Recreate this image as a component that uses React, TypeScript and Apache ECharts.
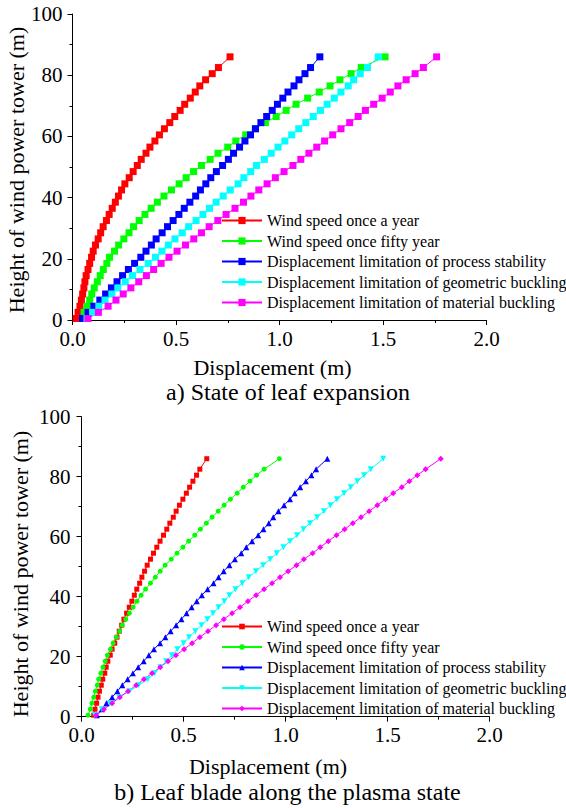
import React, { useEffect, useRef } from "react";
import * as echarts from "echarts";

// Heights of the marker rows (m)
const heights = [0.5, 2.5, 4.5, 6.5, 8.5, 10.5, 12.5, 14.5, 16.5, 18.5, 20.5, 22.5, 24.5, 26.5, 28.5, 30.5, 32.5, 34.5, 36.5, 38.5, 40.5, 42.5, 44.5, 46.5, 48.5, 50.5, 52.5, 54.5, 56.5, 58.5, 60.5, 62.5, 64.5, 66.5, 68.5, 70.5, 72.5, 74.5, 76.5, 78.5, 80.5, 82.5, 86];

const seriesNames = [
  "Wind speed once a year",
  "Wind speed once fifty year",
  "Displacement limitation of process stability",
  "Displacement limitation of geometric buckling",
  "Displacement limitation of material buckling",
];
const colors = ["#FF0000", "#00FF00", "#0000FF", "#00FFFF", "#FF00FF"];

// a) State of leaf expansion — displacement (m)
const aOnceYear = [0.018, 0.027, 0.036, 0.043, 0.049, 0.055, 0.060, 0.066, 0.075, 0.083, 0.092, 0.100, 0.111, 0.124, 0.136, 0.148, 0.164, 0.177, 0.192, 0.207, 0.222, 0.237, 0.253, 0.274, 0.293, 0.313, 0.332, 0.355, 0.374, 0.398, 0.420, 0.444, 0.470, 0.494, 0.520, 0.542, 0.569, 0.593, 0.615, 0.643, 0.675, 0.705, 0.761];
const aFiftyYear = [0.048, 0.056, 0.070, 0.083, 0.093, 0.105, 0.120, 0.134, 0.149, 0.166, 0.179, 0.203, 0.223, 0.248, 0.273, 0.295, 0.322, 0.350, 0.380, 0.410, 0.442, 0.478, 0.515, 0.549, 0.585, 0.623, 0.665, 0.703, 0.750, 0.789, 0.837, 0.883, 0.932, 0.984, 1.032, 1.080, 1.136, 1.192, 1.244, 1.292, 1.346, 1.395, 1.510];
const aProcess = [0.048, 0.075, 0.103, 0.132, 0.160, 0.188, 0.215, 0.242, 0.270, 0.300, 0.330, 0.355, 0.381, 0.404, 0.433, 0.459, 0.486, 0.514, 0.540, 0.567, 0.595, 0.618, 0.644, 0.668, 0.695, 0.725, 0.753, 0.778, 0.807, 0.833, 0.860, 0.884, 0.910, 0.938, 0.965, 0.990, 1.016, 1.041, 1.070, 1.094, 1.123, 1.150, 1.195];
const aGeometric = [0.070, 0.097, 0.127, 0.157, 0.190, 0.219, 0.255, 0.290, 0.326, 0.366, 0.401, 0.432, 0.463, 0.495, 0.530, 0.561, 0.597, 0.630, 0.662, 0.694, 0.728, 0.762, 0.800, 0.828, 0.861, 0.889, 0.927, 0.960, 0.993, 1.026, 1.059, 1.093, 1.127, 1.163, 1.198, 1.230, 1.265, 1.297, 1.332, 1.358, 1.390, 1.425, 1.477];
const aMaterial = [0.075, 0.125, 0.172, 0.210, 0.245, 0.282, 0.320, 0.357, 0.392, 0.428, 0.466, 0.505, 0.546, 0.586, 0.623, 0.660, 0.702, 0.742, 0.785, 0.826, 0.862, 0.900, 0.940, 0.980, 1.022, 1.065, 1.103, 1.142, 1.180, 1.218, 1.257, 1.297, 1.339, 1.380, 1.415, 1.455, 1.496, 1.535, 1.572, 1.612, 1.655, 1.695, 1.759];

// b) Leaf blade along the plasma state — displacement (m)
const bOnceYear = [0.060, 0.066, 0.074, 0.081, 0.088, 0.097, 0.104, 0.114, 0.121, 0.129, 0.141, 0.150, 0.163, 0.174, 0.185, 0.197, 0.208, 0.221, 0.234, 0.247, 0.259, 0.271, 0.285, 0.296, 0.309, 0.322, 0.338, 0.353, 0.369, 0.385, 0.402, 0.418, 0.433, 0.450, 0.464, 0.480, 0.497, 0.514, 0.530, 0.546, 0.564, 0.580, 0.614];
const bFiftyYear = [0.032, 0.043, 0.051, 0.060, 0.068, 0.077, 0.084, 0.095, 0.105, 0.116, 0.127, 0.142, 0.155, 0.171, 0.187, 0.200, 0.217, 0.235, 0.253, 0.272, 0.292, 0.314, 0.338, 0.362, 0.386, 0.410, 0.440, 0.468, 0.497, 0.525, 0.555, 0.583, 0.612, 0.640, 0.670, 0.699, 0.730, 0.763, 0.793, 0.826, 0.858, 0.895, 0.970];
const bProcess = [0.075, 0.100, 0.122, 0.150, 0.176, 0.200, 0.226, 0.252, 0.278, 0.305, 0.330, 0.355, 0.385, 0.411, 0.437, 0.464, 0.490, 0.515, 0.540, 0.565, 0.590, 0.618, 0.647, 0.672, 0.697, 0.725, 0.752, 0.783, 0.808, 0.836, 0.866, 0.892, 0.918, 0.940, 0.965, 0.993, 1.022, 1.045, 1.072, 1.100, 1.127, 1.150, 1.205];
const bGeometric = [0.065, 0.100, 0.140, 0.185, 0.235, 0.280, 0.325, 0.358, 0.387, 0.415, 0.443, 0.470, 0.500, 0.527, 0.558, 0.588, 0.617, 0.645, 0.672, 0.700, 0.725, 0.755, 0.788, 0.820, 0.855, 0.890, 0.925, 0.957, 0.990, 1.022, 1.056, 1.088, 1.120, 1.155, 1.188, 1.220, 1.252, 1.287, 1.320, 1.352, 1.385, 1.418, 1.479];
const bMaterial = [0.072, 0.110, 0.150, 0.188, 0.228, 0.268, 0.306, 0.346, 0.386, 0.424, 0.463, 0.503, 0.542, 0.580, 0.620, 0.660, 0.698, 0.738, 0.777, 0.816, 0.856, 0.895, 0.934, 0.973, 1.013, 1.054, 1.090, 1.133, 1.170, 1.210, 1.250, 1.290, 1.330, 1.370, 1.410, 1.450, 1.490, 1.528, 1.570, 1.607, 1.646, 1.687, 1.761];

const xTicks = [0, 2, 0.5];
const yTicks = [0, 100, 20];

const FONT = "Liberation Serif";

const aSeries = [aOnceYear, aFiftyYear, aProcess, aGeometric, aMaterial];
const bSeries = [bOnceYear, bFiftyYear, bProcess, bGeometric, bMaterial];
const bSymbols = ["rect", "circle", "triangle", "triangle", "diamond"];
const bSizes = [5, 5, 6, 6, 6];
const bRot = [0, 0, 0, 180, 0];

function xAxisCfg(gridIndex: number) {
  return {
    gridIndex,
    type: "value",
    min: xTicks[0],
    max: xTicks[1],
    interval: xTicks[2],
    axisLine: { show: true, onZero: false, lineStyle: { color: "#000", width: 1 } },
    axisTick: { show: true, inside: false, length: 5, lineStyle: { color: "#000" } },
    minorTick: { show: true, splitNumber: 2, length: 3, lineStyle: { color: "#000" } },
    splitLine: { show: false },
    axisLabel: {
      color: "#000",
      fontFamily: FONT,
      fontSize: 21,
      margin: 8,
      formatter: (v: number) => v.toFixed(1),
    },
  };
}

function yAxisCfg(gridIndex: number, margin: number) {
  return {
    gridIndex,
    type: "value",
    min: yTicks[0],
    max: yTicks[1],
    interval: yTicks[2],
    axisLine: { show: true, onZero: false, lineStyle: { color: "#000", width: 1 } },
    axisTick: { show: true, inside: false, length: 5, lineStyle: { color: "#000" } },
    minorTick: { show: true, splitNumber: 2, length: 3, lineStyle: { color: "#000" } },
    splitLine: { show: false },
    axisLabel: { color: "#000", fontFamily: FONT, fontSize: 21, margin },
  };
}

function legendCfg(top: number, names: string[], itemHeight: number, strip: boolean) {
  return {
    data: names,
    orient: "vertical",
    left: 221,
    top,
    padding: 0,
    itemWidth: 40,
    itemHeight,
    itemGap: 4.5,
    selectedMode: false,
    formatter: strip ? (n: string) => n.slice(3) : (n: string) => n,
    textStyle: { color: "#000", fontFamily: FONT, fontSize: 16, lineHeight: 16 },
  };
}

export default function App() {
  const ref = useRef<HTMLDivElement>(null);
  useEffect(() => {
    document.body.style.margin = "0";
    const chart = echarts.init(ref.current as HTMLDivElement, null, { renderer: "svg" });

    const series: any[] = [];
    aSeries.forEach((vals, i) => {
      series.push({
        type: "line",
        name: seriesNames[i],
        xAxisIndex: 0,
        yAxisIndex: 0,
        data: vals.map((d, k) => [d, heights[k]]),
        symbol: "rect",
        symbolSize: 7,
        showAllSymbol: true,
        lineStyle: { color: colors[i], width: 1 },
        itemStyle: { color: colors[i] },
        emphasis: { disabled: true },
      });
    });
    bSeries.forEach((vals, i) => {
      series.push({
        type: "line",
        name: "b: " + seriesNames[i],
        xAxisIndex: 1,
        yAxisIndex: 1,
        data: vals.map((d, k) => [d, heights[k]]),
        symbol: bSymbols[i],
        symbolSize: bSizes[i],
        symbolRotate: bRot[i],
        showAllSymbol: true,
        lineStyle: { color: colors[i], width: 1 },
        itemStyle: { color: colors[i] },
        emphasis: { disabled: true },
      });
    });

    const txt = (text: string, x: number, y: number, size: number, rot = 0) => ({
      type: "text",
      x,
      y,
      rotation: rot,
      style: {
        text,
        fill: "#000",
        fontFamily: FONT,
        fontSize: size,
        align: "center",
        verticalAlign: "middle",
      },
    });

    chart.setOption({
      animation: false,
      backgroundColor: "#fff",
      textStyle: { fontFamily: FONT },
      grid: [
        { left: 72.5, top: 14, width: 414, height: 306 },
        { left: 81.5, top: 416.7, width: 408, height: 300 },
      ],
      xAxis: [xAxisCfg(0), xAxisCfg(1)],
      yAxis: [yAxisCfg(0, 10), yAxisCfg(1, 11)],
      legend: [
        legendCfg(212.5, seriesNames, 9, false),
        legendCfg(618.5, seriesNames.map((n) => "b: " + n), 7, true),
      ],
      series,
      graphic: [
        txt("Height of wind power tower (m)", 16.5, 170, 22, Math.PI / 2),
        txt("Displacement (m)", 272.5, 367, 22),
        txt("a) State of leaf expansion", 288, 391.5, 24),
        txt("Height of wind power tower (m)", 20, 574, 22, Math.PI / 2),
        txt("Displacement (m)", 268, 766, 22),
        txt("b) Leaf blade along the plasma state", 287.5, 792, 24),
      ],
    });
    return () => chart.dispose();
  }, []);
  return <div ref={ref} style={{ width: 566, height: 808 }} />;
}
